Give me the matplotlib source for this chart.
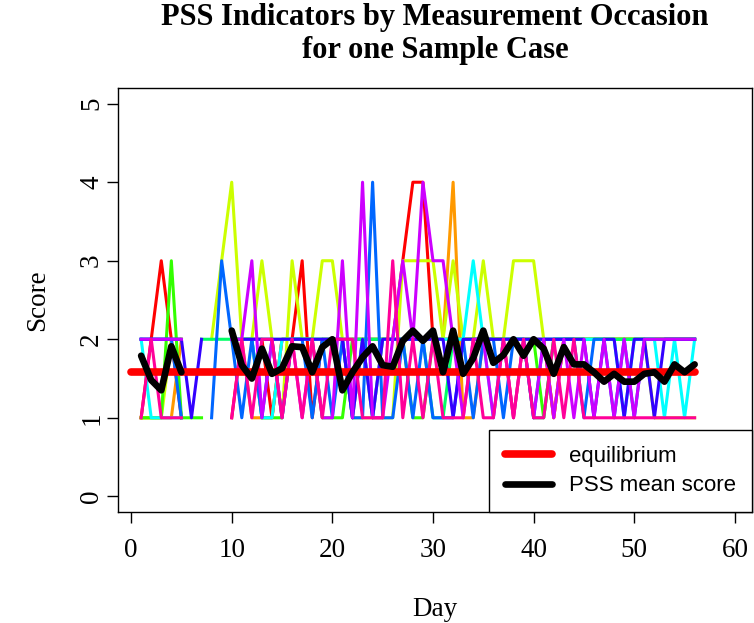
import numpy as np
import matplotlib.pyplot as plt

N = np.nan
days = np.arange(1, 57)

# item scores per day (rainbow(10) colours, NaN = missing)
red     = [1,2,3,2,1, N,N,N,N,1, 2,2,2,1,2,2,3,1,2,2, 2,2,2,2,2,2,3,4,4,2, 2,2,2,2,2,2,2,2,2,2, 2,1,2,2,2,2,2,2,2,2, 2,2,2,2,2,2]
orange  = [1,1,1,1,2, N,N,N,N,2, 2,1,1,1,2,2,2,2,2,2, 2,1,2,1,2,2,2,2,2,2, 2,4,1,1,2,2,2,1,2,2, 2,1,2,2,2,2,2,2,2,2, 2,2,2,2,2,2]
ygreen  = [1,1,1,2,2, N,N,2,3,4, 2,2,3,2,1,3,2,2,3,3, 2,1,1,1,1,1,3,3,3,3, 2,3,2,2,3,2,2,3,3,3, 2,2,2,2,2,2,2,2,2,2, 2,1,1,1,1,1]
green   = [1,1,1,3,1, 1,1,N,N,N, 2,2,1,1,1,2,2,2,1,1, 1,2,2,2,2,2,2,1,1,2, 2,2,2,2,2,2,2,2,2,2, 1,2,2,2,2,2,2,2,2,2, 2,2,2,2,2,2]
sgreen  = [2,2,2,2,2, N,2,2,2,2, 2,2,2,2,2,2,2,2,2,2, 2,2,2,2,2,2,2,2,2,1, 1,2,2,2,2,2,2,2,2,1, 1,2,2,2,2,2,2,2,2,2, 2,2,2,2,2,2]
cyan    = [2,1,1,1,1, N,N,N,N,2, 2,2,1,1,2,2,2,2,2,2, 2,1,2,1,2,2,2,2,2,2, 2,2,2,3,2,1,2,2,2,2, 2,2,2,2,2,2,2,2,1,2, 2,2,1,2,1,2]
azure   = [2,2,2,2,1, N,N,1,3,2, 1,2,1,2,1,2,2,1,2,1, 2,1,1,4,1,1,2,1,2,1, 1,1,2,1,2,2,1,2,2,1, 2,2,2,2,1,2,2,1,2,1, 2,2,2,2,2,2]
blue    = [2,2,2,2,2, 1,2,N,N,2, 2,2,2,2,2,2,2,2,2,2, 2,1,2,1,2,2,2,2,2,2, 2,1,2,2,2,2,2,2,2,2, 2,2,2,2,2,1,2,2,1,2, 2,1,2,2,2,2]
purple  = [2,2,2,2,2, N,N,N,N,2, 2,3,1,2,1,2,1,2,1,1, 3,1,4,1,1,2,3,2,4,3, 3,2,1,2,2,1,2,1,2,1, 2,1,2,1,2,1,2,1,2,1, 2,2,2,2,2,2]
magenta = [1,2,1,1,1, N,N,N,N,1, 2,1,2,2,1,2,1,2,1,2, 2,2,1,1,1,3,1,2,1,2, 1,1,1,2,1,1,2,1,2,1, 1,2,1,2,1,1,1,1,1,1, 1,1,1,1,1,1]

items = [red, orange, ygreen, green, sgreen, cyan, azure, blue, purple, magenta]
colors = ["#FF0000", "#FF9900", "#CCFF00", "#33FF00", "#00FF66",
          "#00FFFF", "#0066FF", "#3300FF", "#CC00FF", "#FF0099"]

mean_score = [1.79,1.48,1.35,1.91,1.58, N,N,N,N,2.11,
              1.67,1.50,1.88,1.56,1.63,1.91,1.90,1.58,1.90,2.00,
              1.35,1.58,1.77,1.91,1.67,1.65,1.98,2.11,1.98,2.11,
              1.58,2.11,1.56,1.76,2.11,1.70,1.80,2.00,1.79,2.00,
              1.88,1.56,1.90,1.68,1.68,1.58,1.46,1.56,1.46,1.46,
              1.56,1.58,1.46,1.68,1.58,1.68]
equilibrium = 1.58

plt.rcParams['font.family'] = ['Liberation Serif', 'DejaVu Serif']

fig = plt.figure(figsize=(7.54, 6.23), dpi=100)
ax = fig.add_axes([118/754, 1 - 512/623, (752 - 118)/754, (512 - 88)/623])

for vals, c in zip(items, colors):
    ax.plot(days, vals, color=c, lw=2.2)

ax.plot([0, 56], [equilibrium, equilibrium], color="red", lw=5.5,
        solid_capstyle='round', label="equilibrium")
ax.plot(days, mean_score, color="black", lw=4.8, solid_capstyle='round',
        solid_joinstyle='round', label="PSS mean score")

ax.set_xlim(-1.3, 61.7)
ax.set_ylim(-0.2, 5.2)
ax.set_xticks(range(0, 61, 10))
ax.set_yticks(range(0, 6))
ax.tick_params(direction='out', length=8, width=1, labelsize=19.5)
ax.tick_params(axis='x', pad=11)
ax.tick_params(axis='y', pad=2)
for lab in ax.get_yticklabels():
    lab.set_rotation(90)
    lab.set_va('center')
for s in ax.spines.values():
    s.set_linewidth(1)

ax.set_xlabel("Day", fontsize=19.5, labelpad=24)
ax.set_ylabel("Score", fontsize=19.5, labelpad=21)
fig.text(435/754, 1 - 34/623,
         "PSS Indicators by Measurement Occasion\nfor one Sample Case",
         fontsize=22, fontweight='bold', ha='center', va='center',
         linespacing=1.15)

leg = ax.legend(loc='lower right', prop={'family': 'Liberation Sans', 'size': 16},
                fancybox=False, framealpha=1, edgecolor='black',
                borderaxespad=0, handlelength=2.1, borderpad=0.7,
                handletextpad=0.8, labelspacing=0.4)
leg.get_frame().set_linewidth(1)

fig.savefig("out.png", dpi=100)
